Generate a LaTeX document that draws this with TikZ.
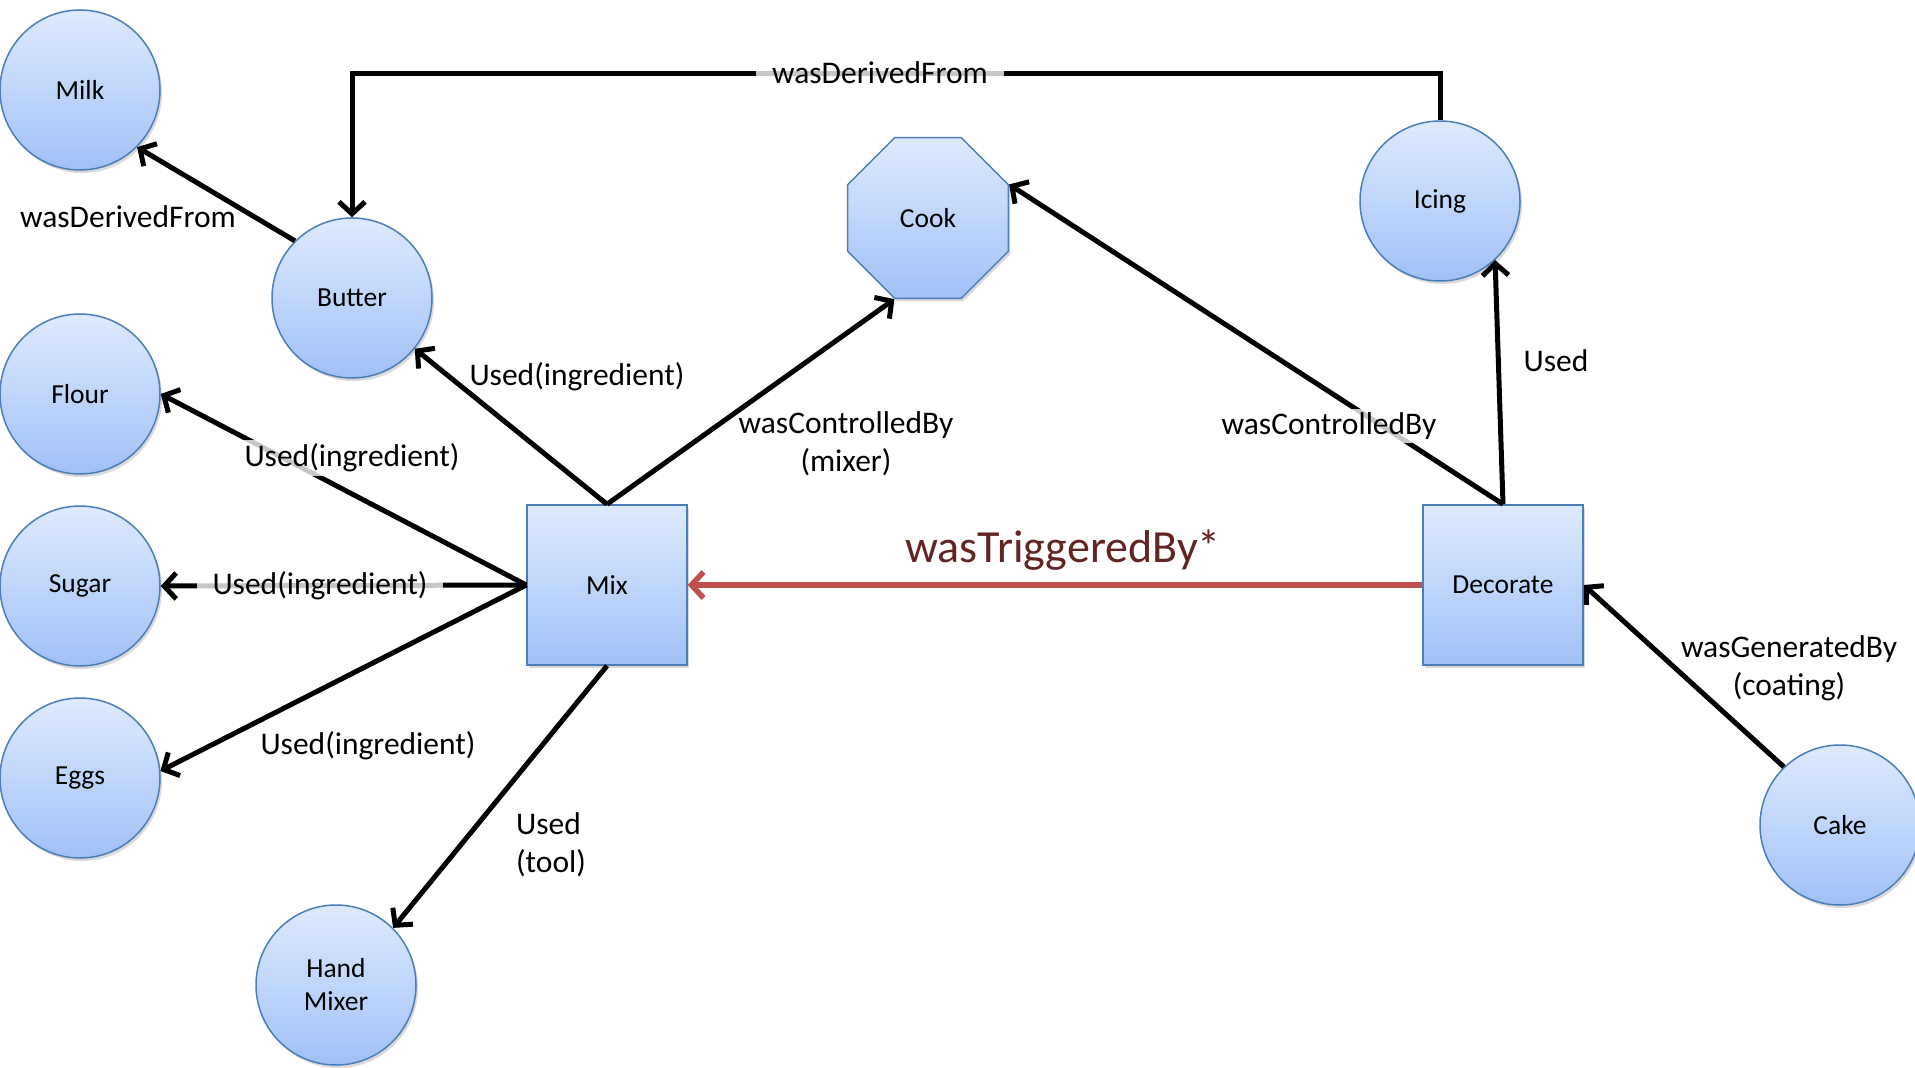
\documentclass[tikz,border=0pt]{standalone}
\usepackage{fontspec}
\setmainfont{Carlito}
\usetikzlibrary{arrows.meta,shapes.geometric,shadows}
\definecolor{nodetop}{RGB}{222,234,253}
\definecolor{nodebot}{RGB}{160,193,247}
\definecolor{nodeline}{RGB}{74,126,187}
\definecolor{trigred}{RGB}{192,80,77}
\definecolor{trigtext}{RGB}{99,37,35}
\begin{document}
\begin{tikzpicture}[x=1pt,y=-1pt,
 base/.style={draw=nodeline, line width=1.5pt, top color=nodetop, bottom color=nodebot,
   drop shadow={opacity=0.3,shadow xshift=2pt,shadow yshift=-3pt},
   font=\fontsize{27.5}{33}\selectfont, inner sep=0pt, align=center},
 entity/.style={base, circle, minimum size=160pt},
 activity/.style={base, rectangle, minimum width=160pt, minimum height=160pt},
 agent/.style={base, regular polygon, regular polygon sides=8, minimum size=174pt},
 rel/.style={line width=5pt, -{Straight Barb[length=12pt,width=26pt]}},
 lab/.style={font=\fontsize{31.5}{38}\selectfont, align=center},
 labbox/.style={lab, fill=white, fill opacity=0.78, text opacity=1, inner xsep=16pt, inner ysep=4pt},
]
\useasboundingbox (0,0) rectangle (1915,1068);
\node[entity] (milk) at (80,90) {Milk};
\node[entity] (butter) at (352,298) {Butter};
\node[entity] (flour) at (80,394) {Flour};
\node[entity] (sugar) at (80,586) {Sugar};
\node[entity] (eggs) at (80,778) {Eggs};
\node[entity] (hand) at (336,985) {Hand\\Mixer};
\node[agent] (cook) at (928,218) {Cook};
\node[entity] (icing) at (1440,201) {Icing};
\node[activity] (mix) at (607,585) {Mix};
\node[activity] (dec) at (1503,585) {Decorate};
\node[entity] (cake) at (1840,825) {Cake};

\coordinate (topright) at (1440,73);
\draw[rel] (butter.135) -- (milk.-45);
\draw[rel] (icing.north) -- (topright) -| (butter.north);
\draw[rel] (mix.north) -- (butter);
\draw[rel] (mix.west) -- (flour.east);
\draw[rel] (mix.west) -- (sugar.east);
\draw[rel] (mix.west) -- (eggs.5);
\draw[rel] (mix.south) -- (hand.45);
\draw[rel] (mix.north) -- (cook.corner 5);
\draw[rel] (dec.north) -- (cook.corner 8);
\draw[rel] (dec.north) -- (icing.-47);
\draw[rel, draw=trigred, line width=5.5pt] (dec.west) -- (mix.east);
\draw[rel] (cake.134) -- (dec.east);

\node[lab] (l1) at (128,217) {wasDerivedFrom};
\node[labbox] (l2) at (880,73) {wasDerivedFrom};
\node[lab] (l3) at (577,377) {Used(ingredient)};
\node[labbox] (l4) at (352,458) {Used(ingredient)};
\node[labbox] (l5) at (320,586) {Used(ingredient)};
\node[lab] (l6) at (368,746) {Used(ingredient)};
\node[lab, align=left] (l7) at (551,845) {Used\\(tool)};
\node[lab] (l8) at (846,444) {wasControlledBy\\(mixer)};
\node[labbox] (l9) at (1329,426) {wasControlledBy};
\node[lab] (l10) at (1556,361) {Used};
\node[lab, text=trigtext, font=\fontsize{46}{52}\selectfont] (l11) at (1063,550) {wasTriggeredBy*};
\node[lab] (l12) at (1789,668) {wasGeneratedBy\\(coating)};
\end{tikzpicture}
\end{document}
